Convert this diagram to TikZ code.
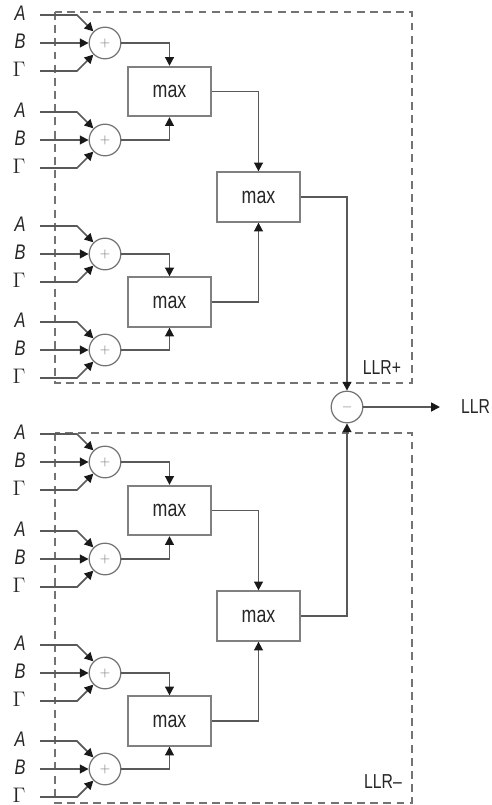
\documentclass[tikz,border=0pt]{standalone}
\usepackage{fontspec}
\newfontfamily\narrowsf[FakeStretch=0.78]{Liberation Sans}
\usetikzlibrary{arrows.meta}

\begin{document}
\begin{tikzpicture}[x=0.02cm,y=-0.02cm,
		wire/.style={draw=black!65,line width=1pt},
		sig/.style={wire,-{Triangle[length=5pt,width=5pt,color=black!90]}},
		adder/.style={circle,draw=black!55,line width=0.7pt,fill=white,minimum size=18pt,inner sep=0pt,font=\scriptsize,text=black!50},
		maxbox/.style={rectangle,draw=black!50,line width=1.2pt,fill=white,minimum width=47pt,minimum height=28pt,font=\narrowsf\fontsize{13}{15}\selectfont,text=black!85},
		inlbl/.style={anchor=east,yshift=1.2pt,inner xsep=8pt,inner ysep=0pt,font=\narrowsf\itshape\fontsize{12}{14}\selectfont,text=black!85},
		grp/.style={draw=black!55,line width=0.9pt,dash pattern=on 4.5pt off 3pt},
		tag/.style={font=\narrowsf\fontsize{11.5}{13}\selectfont,text=black!85}]
	\useasboundingbox (0,0) rectangle (491,805);
	%% the two halves
	\draw[grp] (55,12) rectangle (412,383);
	\draw[grp] (55,433) rectangle (412,803);
	\foreach \h/\dy in {p/0,m/419}{
		%% adders with their three inputs
		\foreach \k/\y in {1/43,2/140,3/254,4/350}{
			\node[adder] (s\h\k) at (105,\y+\dy) {$+$};
			\node[inlbl] (a\h\k) at (40,\y+\dy-28) {A};
			\node[inlbl] (b\h\k) at (40,\y+\dy) {B};
			\node[inlbl] (g\h\k) at (40,\y+\dy+28) {$\Gamma$};
			\draw[sig] ([yshift=-1.2pt]a\h\k.east) -- ++(37,0) -- (s\h\k.135);
			\draw[sig] ([yshift=-1.2pt]b\h\k.east) -- (s\h\k.west);
			\draw[sig] ([yshift=-1.2pt]g\h\k.east) -- ++(37,0) -- (s\h\k.225);
		}
		%% max tree
		\node[maxbox] (m\h1) at (169.5,91.5+\dy) {max};
		\node[maxbox] (m\h2) at (169.5,302+\dy) {max};
		\node[maxbox] (m\h3) at (258.5,197+\dy) {max};
		\draw[sig] (s\h1.east) -| (m\h1.north);
		\draw[sig] (s\h2.east) -| (m\h1.south);
		\draw[sig] (s\h3.east) -| (m\h2.north);
		\draw[sig] (s\h4.east) -| (m\h2.south);
		\draw[sig] (m\h1.east) -| (m\h3.north);
		\draw[sig] (m\h2.east) -| (m\h3.south);
	}
	%% difference
	\node[adder] (d) at (347,407) {$-$};
	\draw[sig] (mp3.east) -| (d.north);
	\draw[sig] (mm3.east) -| (d.south);
	\coordinate (llrend) at (440,407);
	\draw[sig] (d.east) -- (llrend);
	\node[tag,anchor=west] (llr) at (455,407) {LLR};
	\node[tag] (llrp) at (382,368) {LLR+};
	\node[tag] (llrm) at (383,782) {LLR\textendash};
\end{tikzpicture}
\end{document}
